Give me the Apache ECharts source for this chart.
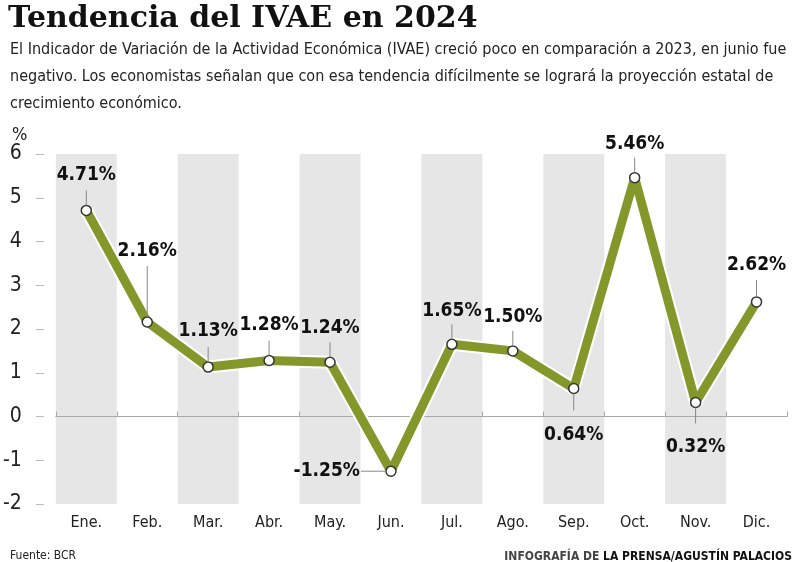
<!DOCTYPE html>
<html><head><meta charset="utf-8">
<script src="https://cdn.jsdelivr.net/npm/echarts@6/dist/echarts.min.js"></script>
<style>html,body{margin:0;padding:0;background:#fff}#c{width:800px;height:562px}</style>
</head><body><div id="c"></div>
<script>
const months = ['Ene.','Feb.','Mar.','Abr.','May.','Jun.','Jul.','Ago.','Sep.','Oct.','Nov.','Dic.'];
const ivae = [4.71, 2.16, 1.13, 1.28, 1.24, -1.25, 1.65, 1.50, 0.64, 5.46, 0.32, 2.62];
const yTicks = [-2, -1, 0, 1, 2, 3, 4, 5, 6];

const titleText = 'Tendencia del IVAE en 2024';
const subText = 'El Indicador de Variación de la Actividad Económica (IVAE) creció poco en comparación a 2023, en junio fue\nnegativo. Los economistas señalan que con esa tendencia difícilmente se logrará la proyección estatal de\ncrecimiento económico.';
const sourceText = 'Fuente: BCR';
const creditLight = 'INFOGRAFÍA DE ';
const creditBold = 'LA PRENSA/AGUSTÍN PALACIOS';

// label placement (style): dir, label center offset, leader line from/to (px from point)
const place = [
  {dir:'up', d:-35, a:-5, b:-20},
  {dir:'up', d:-71, a:-5, b:-56},
  {dir:'up', d:-36, a:-5, b:-20},
  {dir:'up', d:-35, a:-5, b:-20},
  {dir:'up', d:-34, a:-5, b:-20},
  {dir:'left', d:-31, a:-5, b:-30},
  {dir:'up', d:-33, a:-5, b:-20},
  {dir:'up', d:-34, a:-5, b:-20},
  {dir:'down', d:47, a:5, b:22},
  {dir:'up', d:-34, a:-5, b:-20},
  {dir:'down', d:45, a:5, b:21},
  {dir:'up', d:-37, a:-5, b:-22}
];

const NARROW = "'DejaVu Sans Condensed','Liberation Sans Narrow',Roboto,sans-serif";
const fmt = v => v.toFixed(2) + '%';

const chart = echarts.init(document.getElementById('c'));
chart.setOption({
  animation: false,
  backgroundColor: '#fff',
  title: [
    {text: titleText, left: 3, top: -1, textStyle:{fontFamily:"'DejaVu Serif',serif", fontWeight:'900', fontSize:30, color:'#111'}},
    {text: subText, left: 5, top: 31, textStyle:{fontFamily:NARROW, fontWeight:'normal', fontSize:16, lineHeight:27, color:'#222'}},
    {text: '%', left: 7, top: 121, textStyle:{fontFamily:NARROW, fontWeight:'normal', fontSize:18, color:'#222'}},
    {text: sourceText, left: 5, top: 545, textStyle:{fontFamily:NARROW, fontWeight:'normal', fontSize:12, color:'#222'}},
    {text: '{a|' + creditLight + '}{b|' + creditBold + '}', right: 3, top: 546,
     textStyle:{rich:{a:{fontFamily:NARROW, fontSize:12, color:'#444'}, b:{fontFamily:NARROW, fontSize:12, fontWeight:'bold', color:'#111'}}}}
  ],
  grid: {left: 55, right: 13, top: 154, bottom: 58},
  xAxis: [
    {type:'category', data: months, boundaryGap: true,
     axisLine:{show:false, onZero:false}, axisTick:{show:false},
     axisLabel:{margin:11, fontFamily:NARROW, fontSize:16, color:'#222'},
     splitArea:{show:true, interval:0, areaStyle:{color:['#e6e6e6','rgba(255,255,255,0)']}}},
    {type:'category', data: months, boundaryGap: true, position:'bottom',
     axisLine:{show:true, onZero:true, lineStyle:{color:'#a8a8a8', width:1}},
     axisTick:{show:true, inside:true, length:5, interval:0, lineStyle:{color:'#a8a8a8'}},
     axisLabel:{show:false}, splitArea:{show:false}}
  ],
  yAxis: {type:'value', min:-2, max:6, interval:1, offset:12,
    axisLine:{show:false},
    axisTick:{show:true, length:8, lineStyle:{color:'#bbb'}},
    axisLabel:{margin:22, fontFamily:NARROW, fontSize:21, color:'#222'},
    splitLine:{show:false}},
  series: [
    {type:'line', data: ivae, symbol:'none', silent:true, z:2,
     lineStyle:{color:'#ffffff', width:13}},
    {type:'line', data: ivae, symbol:'circle', symbolSize:10, z:3,
     lineStyle:{color:'#84972b', width:9},
     itemStyle:{color:'#ffffff', borderColor:'#333', borderWidth:1.5}},
    {type:'custom', z:4, data: ivae.map((v,i)=>[i,v]),
     renderItem: function(params, api){
       const i = api.value(0), v = api.value(1);
       const p = api.coord([i, v]);
       const pl = place[i];
       const children = [];
       let tx, ty, align;
       if (pl.dir === 'left') {
         children.push({type:'line', shape:{x1:p[0]+pl.a, y1:p[1], x2:p[0]+pl.b, y2:p[1]}, style:{stroke:'#888', lineWidth:1}});
         tx = p[0] + pl.d; ty = p[1]; align = 'right';
       } else {
         children.push({type:'line', shape:{x1:p[0], y1:p[1]+pl.a, x2:p[0], y2:p[1]+pl.b}, style:{stroke:'#888', lineWidth:1}});
         tx = p[0]; ty = p[1] + pl.d; align = 'center';
       }
       children.push({type:'text', x:tx, y:ty, style:{text: fmt(v), align: align, verticalAlign:'middle',
         font: "bold 19px " + NARROW, fill:'#111'}});
       return {type:'group', children: children};
     }}
  ]
});
</script></body></html>
